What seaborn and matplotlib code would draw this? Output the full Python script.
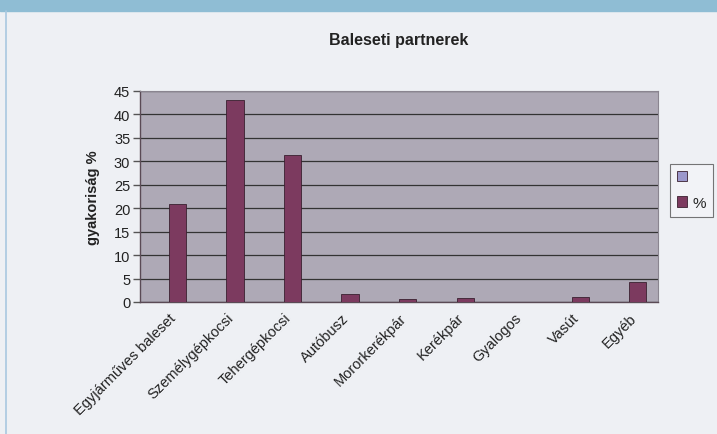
import matplotlib
matplotlib.use("Agg")
import matplotlib.pyplot as plt
import seaborn as sns
import pandas as pd

categories = ["Egyjárműves baleset", "Személygépkocsi", "Tehergépkocsi", "Autóbusz",
              "Mororkerékpár", "Kerékpár", "Gyalogos", "Vasút", "Egyéb"]
series_blank = [0, 0, 0, 0, 0, 0, 0, 0, 0]
series_pct = [20.8, 43.0, 31.3, 1.7, 0.7, 0.8, 0.0, 1.0, 4.3]
y_ticks = [0, 5, 10, 15, 20, 25, 30, 35, 40, 45]

sns.set_theme(style="white")
plt.rcParams["font.family"] = ["Liberation Sans", "DejaVu Sans"]

df = pd.DataFrame({
    "kategoria": categories * 2,
    "sorozat": [" "] * len(categories) + ["%"] * len(categories),
    "ertek": series_blank + series_pct,
})

fig = plt.figure(figsize=(7.17, 4.35), dpi=100)
fig.patch.set_facecolor("#eef0f4")
# header strip and side rule
fig.add_artist(plt.Rectangle((0, 1 - 12 / 435), 1, 12 / 435, transform=fig.transFigure,
                             color="#8fbdd4", zorder=0))
fig.add_artist(plt.Line2D([6 / 717, 6 / 717], [0, 1 - 12 / 435], transform=fig.transFigure,
                          color="#a9c8e0", lw=1.2))

ax = fig.add_axes([140 / 717, 1 - 303 / 435, 518 / 717, 211 / 435])
ax.set_facecolor("#aea9b6")

palette = {" ": "#9c98cc", "%": "#7c3a5f"}
sns.barplot(data=df, x="kategoria", y="ertek", hue="sorozat", palette=palette,
            order=categories, hue_order=[" ", "%"], width=0.6, saturation=1,
            edgecolor="#3a2030", linewidth=0.6, ax=ax, zorder=3)

ax.set_ylim(0, 45)
ax.set_xlim(-0.5, len(categories) - 0.5)
ax.set_yticks(y_ticks)
ax.set_yticklabels([str(t) for t in y_ticks], fontsize=10.5, color="#222222")
for y in y_ticks:
    ax.axhline(y, color="#333333", lw=0.9, zorder=1)

ax.set_xticks([i + 0.5 for i in range(-1, len(categories))], minor=True)
ax.set_xticks(range(len(categories)))
ax.set_xticklabels(categories, rotation=45, ha="right", rotation_mode="anchor",
                   fontsize=10.5, color="#222222")
ax.tick_params(axis="x", which="major", length=0, pad=6)
ax.tick_params(axis="x", which="minor", length=5, color="#555555", width=1, direction="out")
ax.tick_params(axis="y", length=5, color="#555555", width=1, direction="out", left=True, pad=2)

for side in ["left", "bottom"]:
    ax.spines[side].set_color("#5a4a55")
    ax.spines[side].set_linewidth(1.0)
for side in ["top", "right"]:
    ax.spines[side].set_color("#8a8590")
    ax.spines[side].set_linewidth(0.8)

ax.set_xlabel("")
ax.set_ylabel("gyakoriság %", fontsize=10.5, fontweight="bold", color="#222222", labelpad=10)
ax.set_title("Baleseti partnerek", fontsize=11.5, fontweight="bold", color="#222222", pad=34)

leg = ax.legend(loc="center left", bbox_to_anchor=(1.023, 0.53), frameon=True, fontsize=11,
                handlelength=0.7, handleheight=0.7, handletextpad=0.35, borderpad=0.45,
                labelspacing=0.75, fancybox=False, borderaxespad=0)
leg.get_frame().set_edgecolor("#555555")
leg.get_frame().set_facecolor("#f4f5f8")
leg.get_frame().set_linewidth(0.8)

fig.savefig("out.png", dpi=100)
